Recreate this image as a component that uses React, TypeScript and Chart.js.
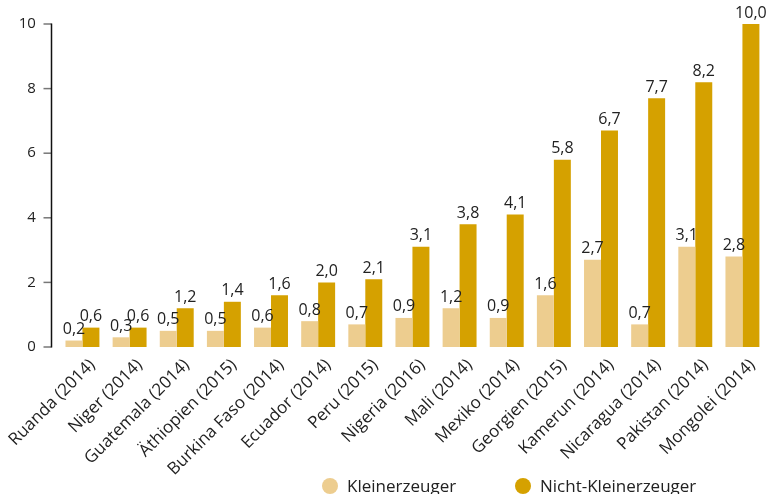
import React, { useEffect, useRef } from "react";
import { Chart, registerables } from "chart.js";

Chart.register(...registerables);

const categories = [
  "Ruanda (2014)",
  "Niger (2014)",
  "Guatemala (2014)",
  "Äthiopien (2015)",
  "Burkina Faso (2014)",
  "Ecuador (2014)",
  "Peru (2015)",
  "Nigeria (2016)",
  "Mali (2014)",
  "Mexiko (2014)",
  "Georgien (2015)",
  "Kamerun (2014)",
  "Nicaragua (2014)",
  "Pakistan (2014)",
  "Mongolei (2014)",
];
const kleinerzeuger = [0.2, 0.3, 0.5, 0.5, 0.6, 0.8, 0.7, 0.9, 1.2, 0.9, 1.6, 2.7, 0.7, 3.1, 2.8];
const nichtKleinerzeuger = [0.6, 0.6, 1.2, 1.4, 1.6, 2.0, 2.1, 3.1, 3.8, 4.1, 5.8, 6.7, 7.7, 8.2, 10.0];
const seriesNames = ["Kleinerzeuger", "Nicht-Kleinerzeuger"];
const yTicks = [0, 2, 4, 6, 8, 10];

const LIGHT = "#EDCD8F";
const DARK = "#D5A100";
const TEXT = "#222222";
const FONT = "'Open Sans', sans-serif";

const fmt = (v: number) => v.toFixed(1).replace(".", ",");

const valueLabels = {
  id: "valueLabels",
  afterDatasetsDraw(chart: any) {
    const ctx = chart.ctx;
    ctx.save();
    ctx.font = `16px ${FONT}`;
    ctx.fillStyle = TEXT;
    ctx.textAlign = "center";
    ctx.textBaseline = "bottom";
    chart.data.datasets.forEach((ds: any, di: number) => {
      const meta = chart.getDatasetMeta(di);
      meta.data.forEach((el: any, i: number) => {
        ctx.fillText(fmt(ds.data[i]), el.x, el.y - 3);
      });
    });
    ctx.restore();
  },
};

const yAxisLine = {
  id: "yAxisLine",
  afterDraw(chart: any) {
    const ctx = chart.ctx;
    const y = chart.scales.y;
    const x0 = Math.round(chart.chartArea.left) - 7.5;
    ctx.save();
    ctx.lineWidth = 1.5;
    ctx.strokeStyle = "#777777";
    yTicks.forEach((t) => {
      const py = y.getPixelForValue(t);
      ctx.beginPath();
      ctx.moveTo(x0 - 8, py);
      ctx.lineTo(x0, py);
      ctx.stroke();
    });
    ctx.strokeStyle = "#111111";
    ctx.beginPath();
    ctx.moveTo(x0, y.getPixelForValue(10) - 0.5);
    ctx.lineTo(x0, y.getPixelForValue(0) + 0.5);
    ctx.stroke();
    ctx.restore();
  },
};

const customLegend = {
  id: "customLegend",
  afterDraw(chart: any) {
    const ctx = chart.ctx;
    const centers = [330, 523];
    const cy = 486;
    ctx.save();
    ctx.font = `17px ${FONT}`;
    ctx.textAlign = "left";
    ctx.textBaseline = "middle";
    chart.data.datasets.forEach((ds: any, i: number) => {
      ctx.fillStyle = ds.backgroundColor;
      ctx.beginPath();
      ctx.arc(centers[i], cy, 8, 0, Math.PI * 2);
      ctx.fill();
      ctx.fillStyle = TEXT;
      ctx.fillText(ds.label, centers[i] + 17, cy + 1);
    });
    ctx.restore();
  },
};

export default function App() {
  const ref = useRef<HTMLCanvasElement | null>(null);

  useEffect(() => {
    if (!ref.current) return;
    const chart = new Chart(ref.current, {
      type: "bar",
      data: {
        labels: categories,
        datasets: [
          { label: seriesNames[0], data: kleinerzeuger, backgroundColor: LIGHT },
          { label: seriesNames[1], data: nichtKleinerzeuger, backgroundColor: DARK },
        ],
      },
      options: {
        animation: false,
        responsive: true,
        maintainAspectRatio: false,
        layout: { padding: { top: 20, right: 5, left: 0, bottom: 0 } },
        datasets: { bar: { categoryPercentage: 0.72, barPercentage: 1 } },
        plugins: {
          legend: { display: false },
          tooltip: { enabled: false },
        },
        scales: {
          x: {
            grid: { display: false },
            border: { display: false },
            ticks: {
              color: TEXT,
              font: { family: FONT, size: 17 },
              minRotation: 45,
              maxRotation: 45,
              autoSkip: false,
              padding: 0,
              labelOffset: 10,
            },
            afterFit(scale: any) {
              scale.height = 147;
            },
          },
          y: {
            min: 0,
            max: 10,
            grid: { display: false },
            border: { display: false },
            afterBuildTicks(scale: any) {
              scale.ticks = yTicks.map((v) => ({ value: v }));
            },
            ticks: {
              color: TEXT,
              font: { family: FONT, size: 15 },
              padding: 15,
            },
            afterFit(scale: any) {
              scale.width = 56;
            },
          },
        },
      },
      plugins: [valueLabels, yAxisLine, customLegend],
    });
    return () => chart.destroy();
  }, []);

  return (
    <div style={{ position: "fixed", left: 0, top: 0, width: 771, height: 494 }}>
      <canvas ref={ref} />
    </div>
  );
}
